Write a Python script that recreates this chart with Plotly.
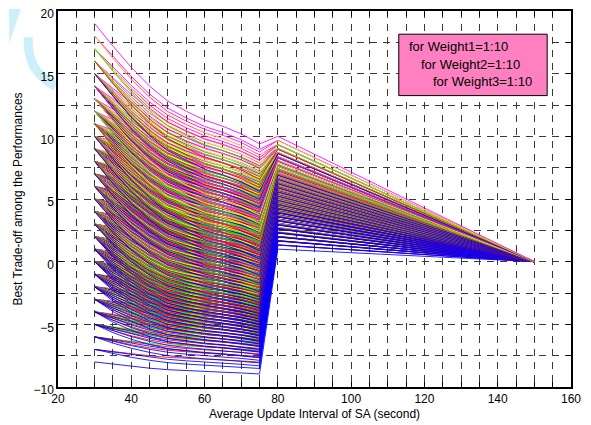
import plotly.graph_objects as go

# Average update interval of SA (second) at which each trade-off curve is evaluated
interval_s = [30, 35, 40, 45, 50, 55, 60, 65, 70, 75, 80, 150]
coef_w1 = [1.00, 0.84, 0.72, 0.63, 0.56, 0.53, 0.51, 0.49, 0.47, 0.44, 0.320, 0.0]
coef_w2 = [1.00, 0.98, 0.93, 0.88, 0.83, 0.79, 0.74, 0.72, 0.69, 0.65, 0.335, 0.0]
coef_w3 = [1.00, 1.00, 1.00, 0.99, 0.99, 0.98, 0.98, 0.97, 0.96, 0.95, 0.345, 0.0]
offset = [-11.0, -11.0, -11.0, -11.0, -11.0, -11.0, -11.0, -11.0, -11.0, -11.0, 0.0, 0.0]

weights1 = list(range(1, 11))
weights2 = list(range(1, 11))
weights3 = list(range(1, 11))
w3_colors = ["#0000ff", "#ff0000", "#00ff00", "#ffff00", "#ff00ff"]

x_ticks = [20, 40, 60, 80, 100, 120, 140, 160]
y_ticks = [-10, -5, 0, 5, 10, 15, 20]
legend_lines = ["for Weight1=1:10", "for Weight2=1:10", "for Weight3=1:10"]

fig = go.Figure()
for w1 in weights1:
    for w2 in weights2:
        for w3 in weights3:
            y = [w1 * a + w2 * b + w3 * c + d
                 for a, b, c, d in zip(coef_w1, coef_w2, coef_w3, offset)]
            fig.add_trace(go.Scatter(
                x=interval_s, y=y, mode="lines", opacity=0.85,
                line=dict(color=w3_colors[(w3 - 1) % 5], width=1),
                hoverinfo="skip", showlegend=False))

grid_col = "#3a3a3a"
font = dict(family="Liberation Sans, Arial, sans-serif", size=12, color="black")

fig.update_layout(
    width=583, height=417,
    margin=dict(l=50, r=20, t=3, b=38),
    paper_bgcolor="white", plot_bgcolor="white",
    font=font,
    showlegend=False,
    xaxis=dict(
        range=[20, 160], tickmode="array", tickvals=x_ticks, automargin=False,
        ticks="inside", ticklen=5, tickcolor="black", ticklabeloverflow="allow",
        showline=True, linecolor="black", linewidth=1.5, mirror="allticks",
        showgrid=True, gridcolor=grid_col, gridwidth=1, griddash="7px,6px",
        zeroline=False,
        minor=dict(dtick=5, tick0=20, ticks="inside", ticklen=5, tickcolor="black",
                   showgrid=True, gridcolor=grid_col, gridwidth=1, griddash="7px,6px"),
        title=dict(text="Average Update Interval of SA (second)", font=font, standoff=4),
        tickfont=font,
    ),
    yaxis=dict(
        range=[-10, 20], tickmode="array", tickvals=y_ticks, automargin=False,
        ticks="inside", ticklen=5, tickcolor="black", ticklabeloverflow="allow",
        ticklabelshift=3,
        showline=True, linecolor="black", linewidth=1.5, mirror="allticks",
        showgrid=True, gridcolor=grid_col, gridwidth=1, griddash="7px,6px",
        zeroline=False,
        minor=dict(dtick=2.5, tick0=-10, ticks="inside", ticklen=5, tickcolor="black",
                   showgrid=True, gridcolor=grid_col, gridwidth=1, griddash="7px,6px"),
        title=dict(text="Best Trade-off among the Performances", font=font, standoff=8),
        tickfont=font,
    ),
)

# text box
fig.add_shape(type="rect", xref="x", yref="y", x0=113.0, x1=153.5, y0=13.25, y1=18.15,
              fillcolor="#ff80c0", line=dict(color="black", width=1), layer="above")
for txt, xs, ys in zip(legend_lines, [115.2, 118.5, 121.8], [17.15, 15.75, 14.35]):
    fig.add_annotation(x=xs, y=ys, xref="x", yref="y", text=txt, showarrow=False,
                       xanchor="left", yanchor="middle",
                       font=dict(family="Liberation Sans, Arial, sans-serif", size=13, color="black"))

# faint watermark in the top-left corner (behind the tick labels)
fig.add_shape(type="path", xref="paper", yref="paper",
              path="M -0.0953,1.005 L -0.0720,1.005 L -0.0953,0.915 Z",
              fillcolor="#cdeffb", line=dict(width=0), layer="below")
fig.add_shape(type="path", xref="paper", yref="paper",
              path="M -0.058,0.93 Q -0.062,0.84 -0.005,0.80",
              line=dict(color="#cdeffb", width=9), layer="below")

fig.write_html("out.html")
